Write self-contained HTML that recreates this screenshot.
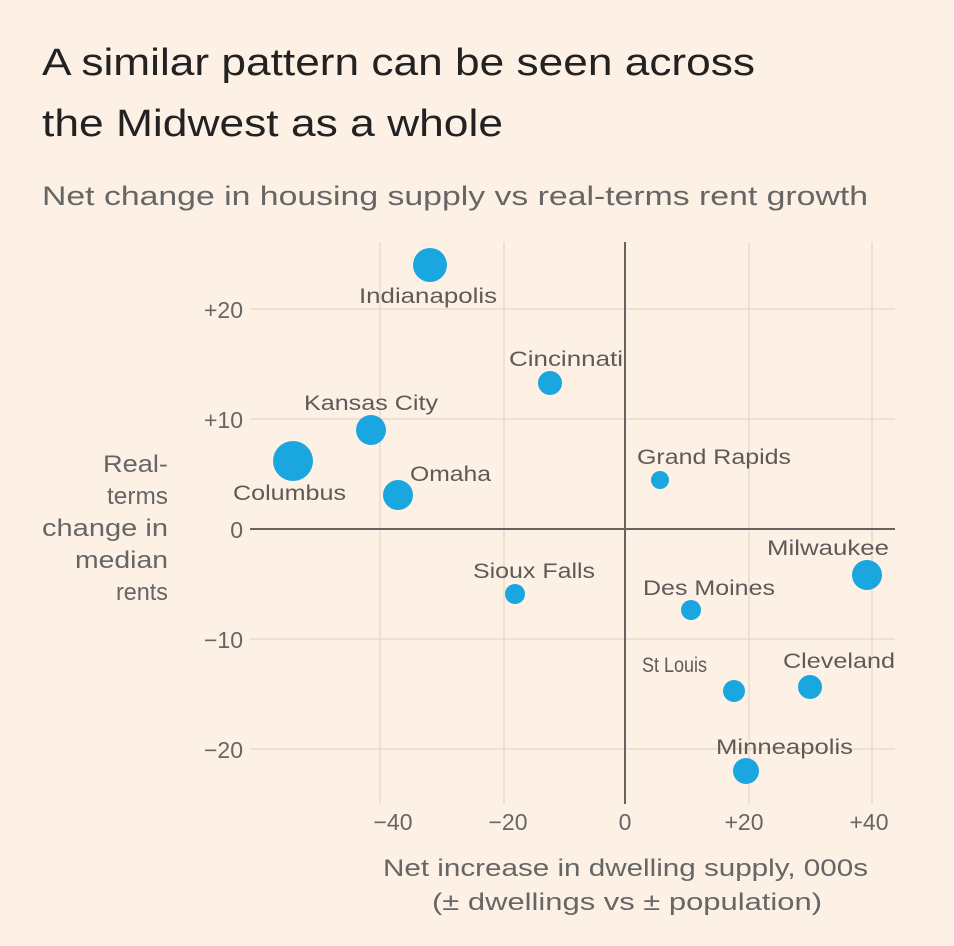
<!DOCTYPE html>
<html><head><style>
body{margin:0;background:#fdf1e5;}
svg{display:block;font-family:"Liberation Sans",sans-serif;}
</style></head><body>
<svg width="954" height="946" viewBox="0 0 954 946" xmlns="http://www.w3.org/2000/svg">
<rect width="954" height="946" fill="#fdf1e5"/>
<text x="42" y="75" font-size="38" fill="#222" textLength="713" lengthAdjust="spacingAndGlyphs">A similar pattern can be seen across</text>
<text x="42" y="136" font-size="38" fill="#222" textLength="461" lengthAdjust="spacingAndGlyphs">the Midwest as a whole</text>
<text x="42" y="205" font-size="27" fill="#666" textLength="826" lengthAdjust="spacingAndGlyphs">Net change in housing supply vs real-terms rent growth</text>
<g stroke="#ecd9cd" stroke-width="1.5">
<line x1="250" y1="309" x2="895" y2="309"/>
<line x1="250" y1="419" x2="895" y2="419"/>
<line x1="250" y1="639" x2="895" y2="639"/>
<line x1="250" y1="749" x2="895" y2="749"/>
<line x1="380" y1="242" x2="380" y2="804"/>
<line x1="504" y1="242" x2="504" y2="804"/>
<line x1="749" y1="242" x2="749" y2="804"/>
<line x1="872" y1="242" x2="872" y2="804"/>
</g>
<line x1="250" y1="529" x2="895" y2="529" stroke="#6a6260" stroke-width="2"/>
<line x1="625" y1="242" x2="625" y2="804" stroke="#6a6260" stroke-width="2"/>
<g font-size="23" fill="#666" text-anchor="end">
<text x="243" y="318">+20</text>
<text x="243" y="428">+10</text>
<text x="243" y="538">0</text>
<text x="243" y="648">−10</text>
<text x="243" y="758">−20</text>
</g>
<g font-size="23" fill="#666" text-anchor="middle">
<text x="393" y="830">−40</text>
<text x="508" y="830">−20</text>
<text x="625" y="830">0</text>
<text x="744" y="830">+20</text>
<text x="869" y="830">+40</text>
</g>
<g font-size="24" fill="#666">
<text x="383" y="876" textLength="485" lengthAdjust="spacingAndGlyphs">Net increase in dwelling supply, 000s</text>
<text x="432" y="910" textLength="390" lengthAdjust="spacingAndGlyphs">(± dwellings vs ± population)</text>
<text x="103" y="472" textLength="65" lengthAdjust="spacingAndGlyphs">Real-</text>
<text x="107" y="504" textLength="61" lengthAdjust="spacingAndGlyphs">terms</text>
<text x="42" y="536" textLength="126" lengthAdjust="spacingAndGlyphs">change in</text>
<text x="75" y="568" textLength="93" lengthAdjust="spacingAndGlyphs">median</text>
<text x="116" y="600" textLength="52" lengthAdjust="spacingAndGlyphs">rents</text>
</g>
<g fill="#1aa6df">
<circle cx="430" cy="265" r="17"/>
<circle cx="293" cy="461" r="20"/>
<circle cx="371" cy="430" r="15"/>
<circle cx="398" cy="495" r="15"/>
<circle cx="550" cy="383" r="12"/>
<circle cx="515" cy="594" r="10"/>
<circle cx="660" cy="480" r="9"/>
<circle cx="691" cy="610" r="10"/>
<circle cx="867" cy="575" r="15"/>
<circle cx="734" cy="691" r="11"/>
<circle cx="810" cy="687" r="12"/>
<circle cx="746" cy="771" r="13"/>
</g>
<g font-size="21" fill="#5f5a58" lengthAdjust="spacingAndGlyphs">
<text x="359" y="303" textLength="138" lengthAdjust="spacingAndGlyphs">Indianapolis</text>
<text x="509" y="366" textLength="114" lengthAdjust="spacingAndGlyphs">Cincinnati</text>
<text x="304" y="410" textLength="134" lengthAdjust="spacingAndGlyphs">Kansas City</text>
<text x="410" y="481" textLength="81" lengthAdjust="spacingAndGlyphs">Omaha</text>
<text x="233" y="500" textLength="113" lengthAdjust="spacingAndGlyphs">Columbus</text>
<text x="637" y="464" textLength="154" lengthAdjust="spacingAndGlyphs">Grand Rapids</text>
<text x="473" y="578" textLength="122" lengthAdjust="spacingAndGlyphs">Sioux Falls</text>
<text x="643" y="595" textLength="132" lengthAdjust="spacingAndGlyphs">Des Moines</text>
<text x="767" y="555" textLength="122" lengthAdjust="spacingAndGlyphs">Milwaukee</text>
<text x="642" y="672" textLength="65" lengthAdjust="spacingAndGlyphs">St Louis</text>
<text x="783" y="668" textLength="112" lengthAdjust="spacingAndGlyphs">Cleveland</text>
<text x="716" y="754" textLength="137" lengthAdjust="spacingAndGlyphs">Minneapolis</text>
</g>
</svg>
</body></html>
